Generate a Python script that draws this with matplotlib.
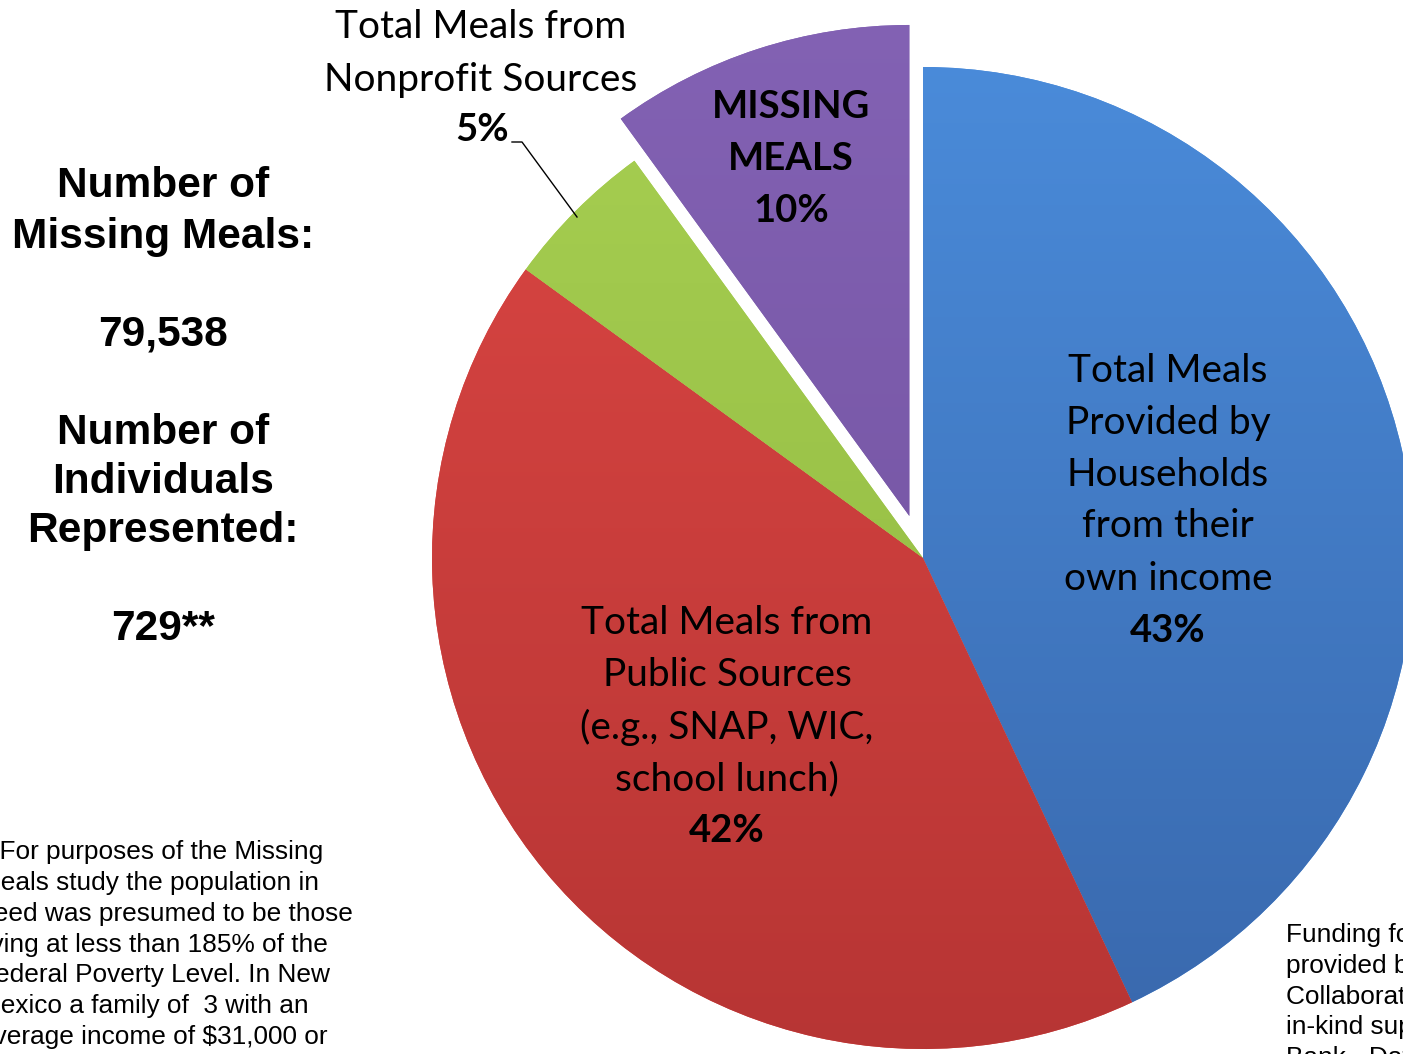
import numpy as np
import matplotlib
matplotlib.use("Agg")
import matplotlib.pyplot as plt
from matplotlib.colors import LinearSegmentedColormap

W, H = 1403, 1054

# ---- data ----
categories = ["Households own income", "Public Sources", "Nonprofit Sources", "Missing Meals"]
shares = [43, 42, 5, 10]
explode_frac = [0, 0, 0, 0.09]
top_colors = ["#4b8ddc", "#dd4744", "#a8d052", "#8362b4"]
bottom_colors = ["#3866aa", "#b53433", "#8cb43e", "#6d4e9a"]

left_title_1 = ["Number of", "Missing Meals:"]
missing_meals = "79,538"
left_title_2 = ["Number of", "Individuals", "Represented:"]
individuals = "729**"

footnote_left = ["**For purposes of the Missing", "Meals study the population in",
                 "need was presumed to be those", "living at less than 185% of the",
                 "Federal Poverty Level. In New", "Mexico a family of  3 with an",
                 "average income of $31,000 or"]
footnote_right = ["Funding for this study", "provided by the", "Collaborative with",
                  "in-kind support from", "Bank - Data"]

fig = plt.figure(figsize=(W / 100, H / 100), dpi=100)
ax = fig.add_axes([0, 0, 1, 1])

def Y(y):
    return H - y

cx, cy, R = 923, Y(558), 491
wedges, _ = ax.pie(shares, explode=[e * R for e in explode_frac], startangle=90,
                   counterclock=False, center=(cx, cy), radius=R, colors=top_colors,
                   wedgeprops=dict(linewidth=0))
ax.set_xlim(0, W)
ax.set_ylim(0, H)
ax.set_aspect("equal")
ax.axis("off")

# gradient fills clipped to each wedge
for w, ct, cb in zip(wedges, top_colors, bottom_colors):
    cmap = LinearSegmentedColormap.from_list("g", [cb, ct])
    grad = np.linspace(0, 1, 256).reshape(-1, 1)
    im = ax.imshow(grad, cmap=cmap, aspect="auto", origin="lower",
                   extent=(cx - R - 60, cx + R + 60, cy - R - 60, cy + R + 60),
                   zorder=1.5)
    im.set_clip_path(w)
    w.set_zorder(1)

ax.set_xlim(0, W)
ax.set_ylim(0, H)

calibri = ["Lato", "DejaVu Sans"]
arial = ["Liberation Sans", "DejaVu Sans"]

def lines(x, ys, texts, size, weight="normal", family=calibri, ha="center"):
    for yy, t in zip(ys, texts):
        ax.text(x, Y(yy + 2), t, fontsize=size, fontweight=weight, family=family,
                ha=ha, va="center", color="black", zorder=5)

# pie labels
lines(481, [25, 78], ["Total Meals from", "Nonprofit Sources"], 28)
lines(482, [128], ["5%"], 27.5, "bold")
ax.plot([512, 522, 577], [Y(142), Y(142), Y(217)], color="black", lw=1, zorder=5)

lines(791, [105, 157, 209], ["MISSING", "MEALS", "10%"], 27.5, "bold")
lines(1168, [369, 421, 473, 524, 577],
      ["Total Meals", "Provided by", "Households", "from their", "own income"], 28)
lines(1168, [629], ["43%"], 27.5, "bold")
lines(727, [621, 673, 725, 777],
      ["Total Meals from", "Public Sources", "(e.g., SNAP, WIC,", "school lunch)"], 28)
lines(727, [829], ["42%"], 27.5, "bold")

# left panel
lines(163, [184, 235], left_title_1, 30.5, "bold", arial)
lines(163, [333], [missing_meals], 30.5, "bold", arial)
lines(163, [431, 480, 529], left_title_2, 30.5, "bold", arial)
lines(163, [627], [individuals], 30.5, "bold", arial)

# footnotes
lines(-21, [850, 881, 912, 943, 973, 1004, 1035], footnote_left, 18.9,
      family=arial, ha="left")
lines(1286, [933, 964, 995, 1025, 1056], footnote_right, 18.9,
      family=arial, ha="left")

fig.savefig("out.png", dpi=100)
